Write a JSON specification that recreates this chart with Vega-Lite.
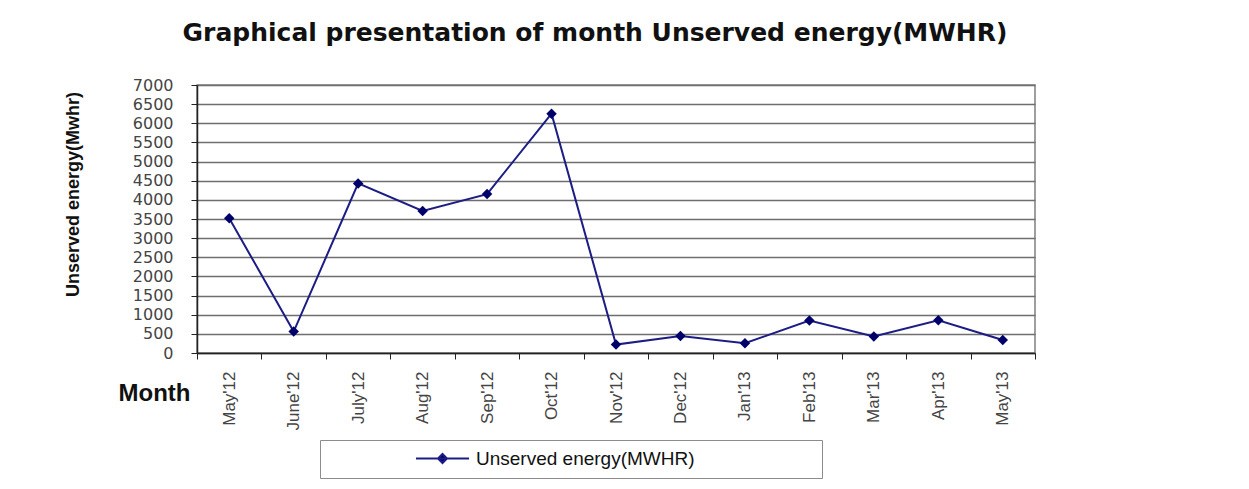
{
  "$schema": "https://vega.github.io/schema/vega-lite/v6.json",
  "width": 838,
  "height": 268,
  "autosize": "none",
  "padding": {"left": 197, "top": 85, "right": 214, "bottom": 136},
  "background": "white",
  "title": {
    "text": "Graphical presentation of month Unserved energy(MWHR)",
    "font": "DejaVu Sans",
    "fontSize": 25,
    "fontWeight": "bold",
    "color": "#111111",
    "anchor": "middle",
    "frame": "group",
    "dx": -21,
    "offset": 11,
    "baseline": "alphabetic"
  },
  "config": {
    "view": {"stroke": "#808080", "strokeWidth": 1.5},
    "axis": {"labelFont": "Liberation Sans", "titleFont": "Liberation Sans"}
  },
  "data": {
    "values": [
      {"month": "May'12", "energy": 3520},
      {"month": "June'12", "energy": 560},
      {"month": "July'12", "energy": 4430},
      {"month": "Aug'12", "energy": 3710},
      {"month": "Sep'12", "energy": 4150},
      {"month": "Oct'12", "energy": 6250},
      {"month": "Nov'12", "energy": 220},
      {"month": "Dec'12", "energy": 445},
      {"month": "Jan'13", "energy": 255},
      {"month": "Feb'13", "energy": 850},
      {"month": "Mar'13", "energy": 430},
      {"month": "Apr'13", "energy": 855},
      {"month": "May'13", "energy": 340}
    ]
  },
  "encoding": {
    "x": {
      "field": "month",
      "type": "nominal",
      "sort": null,
      "bandPosition": 0.5,
      "scale": {"type": "band", "paddingInner": 0, "paddingOuter": 0},
      "axis": {
        "title": "Month",
        "titleFontSize": 24,
        "titleFontWeight": "bold",
        "titleColor": "#111111",
        "titleX": -79,
        "titleY": 40,
        "titleAlign": "left",
        "titleBaseline": "middle",
        "titleAngle": 0,
        "labelAngle": -90,
        "labelFontSize": 17,
        "labelColor": "#444444",
        "labelPadding": 12,
        "tickBand": "extent",
        "tickSize": 6,
        "tickColor": "#222222",
        "domainColor": "#222222",
        "domainWidth": 1.5,
        "grid": false
      }
    },
    "y": {
      "field": "energy",
      "type": "quantitative",
      "scale": {"domain": [0, 7000], "nice": false},
      "axis": {
        "title": "Unserved energy(Mwhr)",
        "titleFontSize": 18,
        "titleFontWeight": "bold",
        "titleColor": "#111111",
        "titleAngle": 270,
        "titleX": -124,
        "titleY": 109,
        "titleAlign": "center",
        "titleBaseline": "middle",
        "values": [0, 500, 1000, 1500, 2000, 2500, 3000, 3500, 4000, 4500, 5000, 5500, 6000, 6500, 7000],
        "format": "d",
        "labelFont": "DejaVu Sans",
        "labelFontSize": 16,
        "labelColor": "#444444",
        "labelPadding": 18,
        "tickSize": 6,
        "tickColor": "#222222",
        "domainColor": "#222222",
        "domainWidth": 1.5,
        "grid": true,
        "gridColor": "#6e6e6e",
        "gridWidth": 1.5
      }
    }
  },
  "layer": [
    {
      "mark": {"type": "line", "strokeWidth": 2},
      "encoding": {
        "color": {
          "datum": "Unserved energy(MWHR)",
          "type": "nominal",
          "scale": {"range": ["#1c1c85"]},
          "legend": {
            "orient": "none",
            "legendX": 123,
            "legendY": 355,
            "title": "\u00a0",
            "titleOrient": "right",
            "titlePadding": 118,
            "titleFontSize": 10,
            "padding": 9,
            "strokeColor": "#8c8c8c",
            "fillColor": "white",
            "symbolType": "M-5.9,0L5.9,0M0,-1L1,0L0,1L-1,0Z",
            "symbolSize": 81,
            "symbolOffset": 104,
            "symbolStrokeWidth": 2,
            "symbolFillColor": "#00006b",
            "labelFont": "Liberation Sans",
            "labelFontSize": 19,
            "labelColor": "#111111",
            "labelOffset": 24,
            "labelLimit": 400
          }
        }
      }
    },
    {
      "mark": {"type": "point", "shape": "diamond", "filled": true, "size": 110, "color": "#00006b", "opacity": 1}
    }
  ]
}
